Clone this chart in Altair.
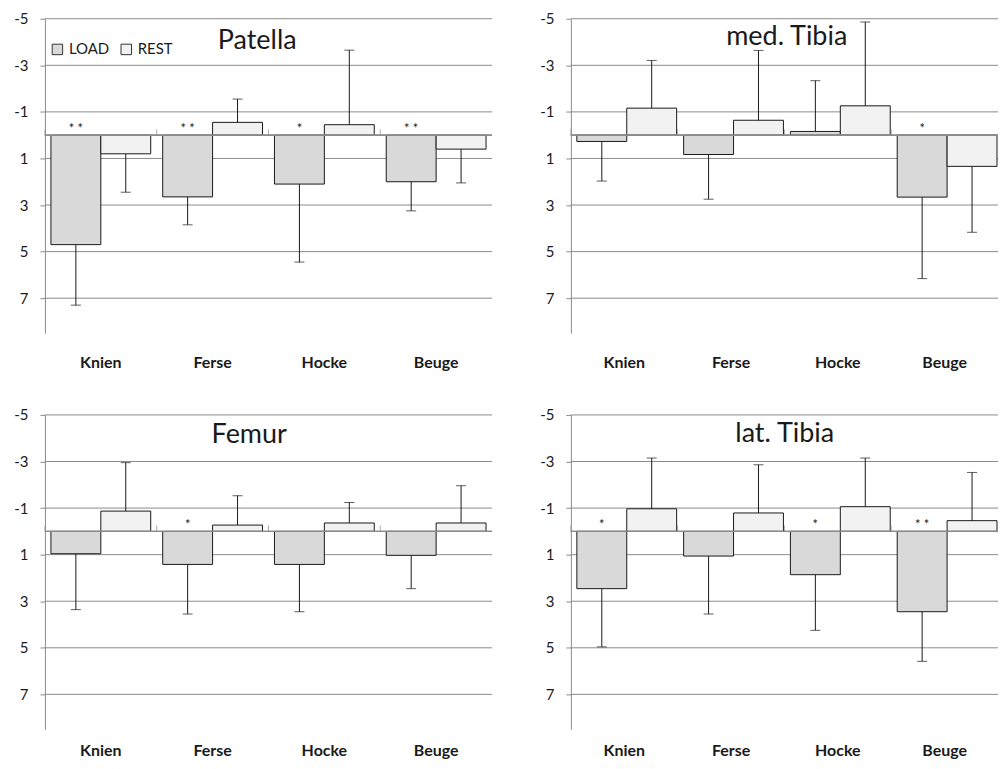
import altair as alt
import pandas as pd

cats = ["Knien", "Ferse", "Hocke", "Beuge"]
series = ["LOAD", "REST"]

# Patella
patella_load = [4.7, 2.65, 2.1, 2.0]
patella_load_sd = [2.6, 1.2, 3.35, 1.25]
patella_rest = [0.8, -0.55, -0.45, 0.6]
patella_rest_sd = [1.65, 1.0, 3.2, 1.45]
patella_sig = ["**", "**", "*", "**"]

# med. Tibia
medtib_load = [0.27, 0.83, -0.16, 2.66]
medtib_load_sd = [1.7, 1.92, 2.18, 3.5]
medtib_rest = [-1.16, -0.64, -1.26, 1.34]
medtib_rest_sd = [2.05, 3.0, 3.6, 2.83]
medtib_sig = ["", "", "", "*"]

# Femur
femur_load = [0.96, 1.42, 1.42, 1.03]
femur_load_sd = [2.4, 2.13, 2.03, 1.43]
femur_rest = [-0.87, -0.27, -0.36, -0.36]
femur_rest_sd = [2.08, 1.26, 0.88, 1.6]
femur_sig = ["", "*", "", ""]

# lat. Tibia
lattib_load = [2.46, 1.06, 1.86, 3.45]
lattib_load_sd = [2.5, 2.49, 2.39, 2.13]
lattib_rest = [-0.97, -0.79, -1.06, -0.46]
lattib_rest_sd = [2.18, 2.07, 2.09, 2.07]
lattib_sig = ["*", "", "*", "**"]

y_ticks = [-5, -3, -1, 1, 3, 5, 7]
y_domain = [-5, 8.5]

FONT = "Lato"
TEXT = "#1a1a1a"
GRID = "#8c8c8c"
EDGE = "#1a1a1a"


def make_df(load, load_sd, rest, rest_sd, sig):
    rows = []
    for i, c in enumerate(cats):
        for s, m, sd, sg in (("LOAD", load[i], load_sd[i], sig[i]),
                             ("REST", rest[i], rest_sd[i], "")):
            end = m + sd if m >= 0 else m - sd
            rows.append(dict(cat=c, series=s, mean=m, end=end,
                             sig=sg.replace("**", "* *")))
    return pd.DataFrame(rows)


def panel(title, df, width, pad_outer, tx, ty, show_legend, lab_pad):
    base = alt.Chart(df)
    if pad_outer:
        xs = alt.Scale(domain=cats, paddingInner=0, paddingOuter=alt.ExprRef(expr=str(pad_outer)), align=0)
    else:
        xs = alt.Scale(domain=cats, paddingInner=0, paddingOuter=0)
    xaxis = alt.Axis(title=None, domain=False, ticks=False, labelPadding=lab_pad,
                     labelBaseline="alphabetic",
                     labelFontSize=16, labelFont=FONT, labelFontWeight="bold",
                     labelColor=TEXT, labelAngle=0)
    x = alt.X("cat:N", scale=xs, sort=cats, axis=xaxis)
    xo = alt.XOffset("series:N", scale=alt.Scale(domain=series, paddingInner=0, paddingOuter=0.12))
    ys = alt.Scale(domain=y_domain, reverse=True, nice=False, zero=False)
    yaxis = alt.Axis(values=y_ticks, title=None, grid=False,
                     domainColor=GRID, tickColor=GRID, tickSize=5, labelPadding=12,
                     labelFontSize=15, labelFont=FONT, labelColor=TEXT,
                     labelExpr="datum.value < 0 ? '-' + abs(datum.value) : '' + datum.value")
    if show_legend:
        leg = alt.Legend(title=None, orient="none", legendX=5, legendY=23,
                         direction="horizontal", symbolType="square", symbolSize=110,
                         symbolStrokeColor="#333333", symbolStrokeWidth=1,
                         labelFontSize=15, labelFont=FONT, labelColor=TEXT,
                         columnPadding=9, labelOffset=4, padding=0)
    else:
        leg = None
    color = alt.Color("series:N", scale=alt.Scale(domain=series, range=["#d9d9d9", "#f2f2f2"]),
                      legend=leg)

    grid = alt.Chart(pd.DataFrame({"v": y_ticks})).mark_rule(color=GRID, strokeWidth=1).encode(
        y=alt.Y("v:Q", scale=ys, axis=yaxis))
    bars = base.mark_bar(stroke=EDGE, strokeWidth=1, clip=True).encode(
        x=x, xOffset=xo, y=alt.Y("mean:Q", scale=ys, axis=yaxis),
        y2=alt.Y2Datum(0), color=color)
    rules = base.mark_rule(color=EDGE, strokeWidth=1).encode(
        x=x, xOffset=xo, y=alt.Y("mean:Q", scale=ys, axis=yaxis), y2="end:Q")
    caps = base.mark_tick(orient="horizontal", size=10, thickness=1, color=EDGE).encode(
        x=x, xOffset=xo, y=alt.Y("end:Q", scale=ys, axis=yaxis))
    zero = base.transform_filter(alt.datum.series == "LOAD").mark_rule(color=GRID, strokeWidth=1).encode(
        y=alt.YDatum(0))
    seps = base.transform_filter(alt.datum.series == "LOAD").mark_tick(
        orient="vertical", size=6, thickness=1, color=GRID, yOffset=-3).encode(
        x=alt.X("cat:N", scale=xs, sort=cats, axis=xaxis, bandPosition=0),
        y=alt.YDatum(0))
    stars = base.transform_filter(alt.datum.sig != "").mark_text(
        baseline="alphabetic", dy=-2, fontSize=13, font=FONT, color=TEXT).encode(
        x=x, xOffset=xo, y=alt.YDatum(0), text="sig:N")
    ttl = alt.Chart(pd.DataFrame({"t": [title]})).mark_text(
        font=FONT, fontSize=27, color=TEXT, align="center", baseline="alphabetic").encode(
        x=alt.value(tx), y=alt.value(ty), text="t:N")

    return alt.layer(grid, bars, rules, caps, zero, seps, stars, ttl).properties(
        width=width, height=315)


RIGHT_PAD = -0.0893  # 4 bands of 112 px in a 428 px wide panel; the last one runs past the edge

p1 = panel("Patella", make_df(patella_load, patella_load_sd, patella_rest, patella_rest_sd, patella_sig),
           448, 0, 212.7, 30.7, True, 34)
p2 = panel("med. Tibia", make_df(medtib_load, medtib_load_sd, medtib_rest, medtib_rest_sd, medtib_sig),
           428, RIGHT_PAD, 216.3, 26.7, False, 34)
p3 = panel("Femur", make_df(femur_load, femur_load_sd, femur_rest, femur_rest_sd, femur_sig),
           448, 0, 204.7, 28.3, False, 26)
p4 = panel("lat. Tibia", make_df(lattib_load, lattib_load_sd, lattib_rest, lattib_rest_sd, lattib_sig),
           428, RIGHT_PAD, 214.3, 26.7, False, 26)

top = alt.hconcat(p1, p2, spacing=46).resolve_scale(color="independent")
bot = alt.hconcat(p3, p4, spacing=46).resolve_scale(color="independent")
chart = alt.vconcat(top, bot, spacing=38).resolve_scale(color="independent").properties(
    padding={"left": 5, "top": 3, "right": 0, "bottom": 0}
).configure(background="white", view=alt.ViewConfig(stroke=None))

chart.save("out.html", embed_options={"renderer": "svg", "actions": False})
